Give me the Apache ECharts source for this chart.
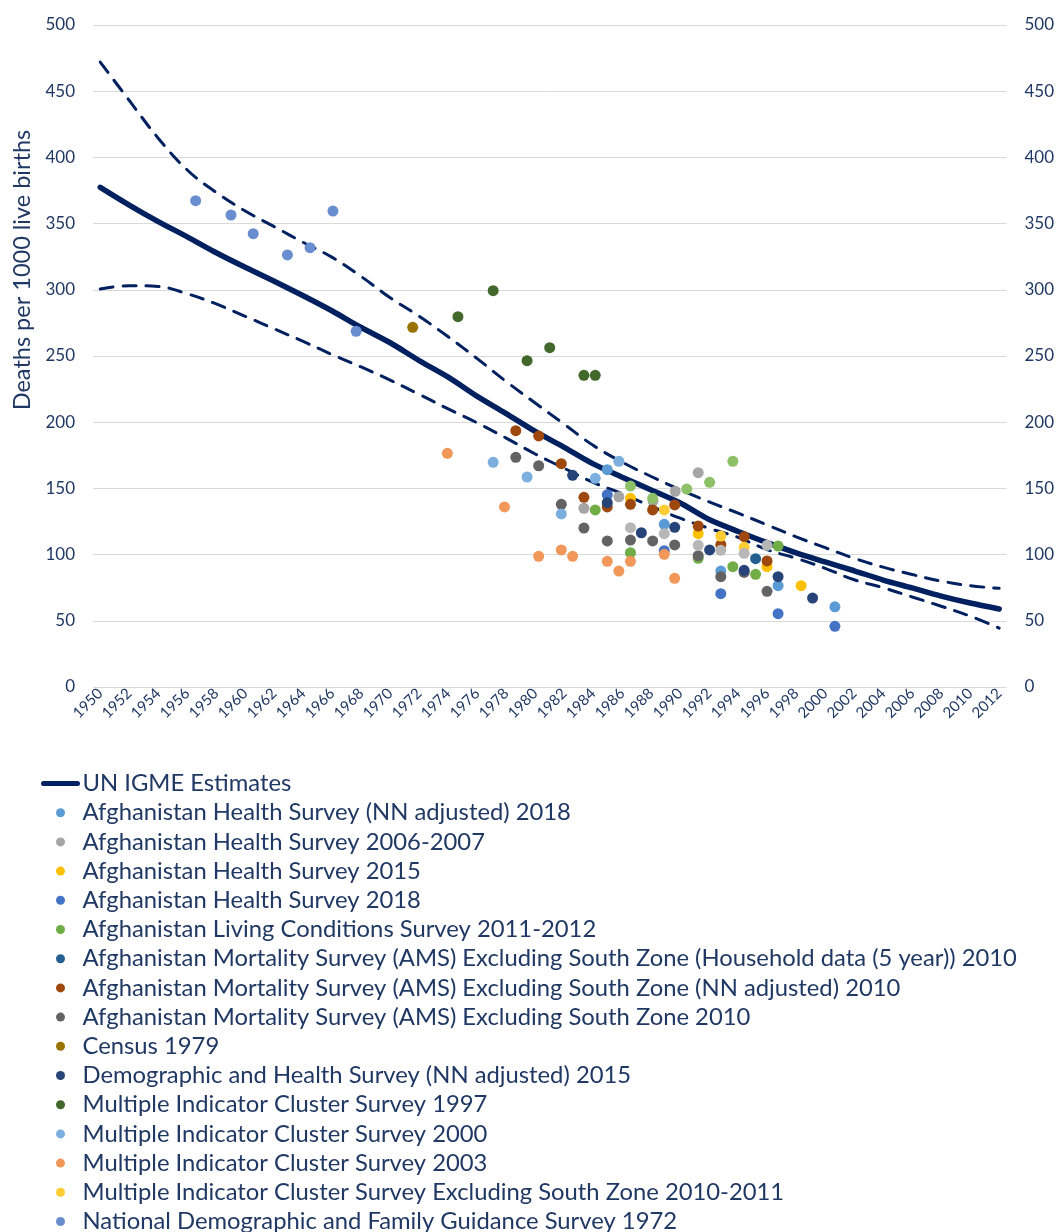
<!DOCTYPE html>
<html>
<head>
<meta charset="utf-8">
<title>Afghanistan neonatal mortality</title>
<script src="https://cdn.jsdelivr.net/npm/echarts@6/dist/echarts.min.js"></script>
<style>
  html, body { margin: 0; padding: 0; background: #fff; }
  #main { width: 1057px; height: 1232px; }
</style>
</head>
<body>
<div id="main"></div>
<script>
// tick labels of the year axis
var yearTicks = [1950, 1952, 1954, 1956, 1958, 1960, 1962, 1964, 1966, 1968, 1970, 1972, 1974, 1976, 1978, 1980,
    1982, 1984, 1986, 1988, 1990, 1992, 1994, 1996, 1998, 2000, 2002, 2004, 2006, 2008, 2010, 2012];

// UN IGME estimate and its bounds, read every 2 years
var estYears = [1950, 1952, 1954, 1956, 1958, 1960, 1962, 1964, 1966, 1968, 1970, 1972, 1974, 1976, 1978, 1980,
    1982, 1984, 1986, 1988, 1990, 1992, 1994, 1996, 1998, 2000, 2002, 2004, 2006, 2008, 2010, 2012];
var estimate = [377.4, 364, 351.5, 340, 328, 317, 306.5, 295.5, 284, 271.5, 260, 246.5, 234, 219.5, 206.5, 193,
    181, 168.5, 158.5, 148.8, 139, 126.5, 117.5, 109, 101.3, 94.5, 87.8, 80.8, 74.8, 68.7, 63.4, 58.9];
var upperBound = [472, 443, 414.5, 390.5, 373.5, 359.5, 347.7, 335.8, 324.5, 310, 294, 280, 264.5, 248, 230.7, 214.5,
    198.5, 182.5, 169.8, 159, 149, 139.8, 131.3, 122.4, 113.4, 105.2, 97.2, 90.5, 85, 80, 76.5, 74.5];
var lowerBound = [300.6, 303.1, 302.5, 297, 289.3, 280, 270.5, 261, 251, 241.7, 231.8, 221, 210, 199.5, 188, 176,
    165.2, 154.5, 146, 136.5, 127.5, 119.8, 113, 103.7, 97.2, 89.6, 81, 75, 68, 61, 53.5, 44.5];

// survey points [year, value]
var ahsNn2018 = [[1984.97, 164.1], [1988.9, 122.9], [1992.8, 87.6], [1996.75, 76.5], [2000.67, 60.6]];
var ahs2006 = [[1983.36, 135.0], [1985.77, 143.7], [1988.13, 140.5], [1989.66, 147.8], [1991.24, 161.9]];
var ahs2015 = [[1986.57, 142.5], [1991.24, 115.8], [1995.99, 90.9], [1998.34, 76.5]];
var ahs2018 = [[1984.97, 145.2], [1988.9, 102.9], [1992.8, 70.5], [1996.75, 55.4], [2000.67, 45.8]];
var alcs = [[1984.14, 133.7], [1986.57, 101.4], [1991.24, 97.2], [1993.63, 90.9], [1995.2, 85.1], [1996.75, 106.5]];
var amsHousehold = [[1995.2, 96.9]];
var amsNn = [[1978.66, 193.6], [1980.24, 189.6], [1981.8, 168.7], [1983.36, 143.3], [1984.97, 136.0], [1986.57, 138.0],
    [1988.1, 133.7], [1989.62, 137.5], [1991.24, 121.6], [1992.8, 107.5], [1994.41, 113.5], [1995.99, 95.2]];
var ams2010 = [[1978.66, 173.5], [1980.24, 167.1], [1981.8, 138.0], [1983.36, 120.1], [1984.97, 110.3], [1986.57, 111.0],
    [1988.1, 110.3], [1989.62, 107.3], [1991.24, 99.2], [1992.8, 83.3], [1994.41, 86.5], [1995.99, 72.3]];
var census1979 = [[1971.55, 271.7]];
var dhsNn2015 = [[1982.58, 159.9], [1984.97, 139.2], [1987.32, 116.5], [1989.62, 120.6], [1992.03, 103.5],
    [1994.41, 88.1], [1996.75, 83.3], [1999.13, 67.2]];
var mics1997 = [[1974.67, 279.7], [1977.1, 299.3], [1979.44, 246.5], [1981.0, 256.3], [1983.36, 235.4], [1984.14, 235.4]];
var mics2000 = [[1977.1, 169.7], [1979.44, 158.6], [1981.8, 130.7], [1984.14, 157.6], [1985.77, 170.5]];
var mics2003 = [[1973.94, 176.5], [1977.88, 136.0], [1980.24, 98.7], [1981.8, 103.5], [1982.58, 98.7], [1984.97, 94.9],
    [1985.77, 87.6], [1986.57, 94.9], [1988.9, 100.2], [1989.62, 82.1]];
var micsEsz = [[1988.9, 133.7], [1992.8, 114.0], [1994.41, 105.5]];
var ndfgs1972 = [[1956.58, 367.3], [1959.02, 356.5], [1960.55, 342.4], [1962.91, 326.3], [1964.47, 331.8],
    [1966.05, 359.5], [1967.65, 268.7]];
// two more series whose legend entries fall below the picture
var hiddenGrey = [[1986.57, 120.3], [1988.9, 115.8], [1991.24, 107.0], [1992.8, 103.2], [1994.41, 101.0], [1995.99, 107.0]];
var hiddenGreen = [[1986.57, 151.8], [1988.1, 142.5], [1990.45, 149.5], [1992.03, 154.6], [1993.63, 170.5]];

var surveys = [
    {name: 'Afghanistan Health Survey (NN adjusted) 2018', color: '#5B9BD5', data: ahsNn2018},
    {name: 'Afghanistan Health Survey 2006-2007', color: '#A5A5A5', data: ahs2006},
    {name: 'Afghanistan Health Survey 2015', color: '#FFC000', data: ahs2015},
    {name: 'Afghanistan Health Survey 2018', color: '#4472C4', data: ahs2018},
    {name: 'Afghanistan Living Conditions Survey 2011-2012', color: '#70AD47', data: alcs},
    {name: 'Afghanistan Mortality Survey (AMS) Excluding South Zone (Household data (5 year)) 2010', color: '#255E91', data: amsHousehold},
    {name: 'Afghanistan Mortality Survey (AMS) Excluding South Zone (NN adjusted) 2010', color: '#9E480E', data: amsNn},
    {name: 'Afghanistan Mortality Survey (AMS) Excluding South Zone 2010', color: '#636363', data: ams2010},
    {name: 'Census 1979', color: '#997300', data: census1979},
    {name: 'Demographic and Health Survey (NN adjusted) 2015', color: '#264478', data: dhsNn2015},
    {name: 'Multiple Indicator Cluster Survey 1997', color: '#43682B', data: mics1997},
    {name: 'Multiple Indicator Cluster Survey 2000', color: '#7CAFDD', data: mics2000},
    {name: 'Multiple Indicator Cluster Survey 2003', color: '#F1975A', data: mics2003},
    {name: 'Multiple Indicator Cluster Survey Excluding South Zone 2010-2011', color: '#FFCD33', data: micsEsz},
    {name: 'National Demographic and Family Guidance Survey 1972', color: '#698ED0', data: ndfgs1972},
    {name: 'National Risk and Vulnerability Assessment 2007-2008', color: '#B7B7B7', data: hiddenGrey, hide: true},
    {name: 'National Risk and Vulnerability Assessment 2011-2012', color: '#8CC168', data: hiddenGreen, hide: true}
];

var navy = '#002060';
var textColor = '#203864';
var font = 'Lato';

function pairs(xs, ys) {
    return xs.map(function (x, i) { return [x, ys[i]]; });
}

var series = [
    {name: 'Upper bound', type: 'line', data: pairs(estYears, upperBound), smooth: 0.4, symbol: 'none', z: 1,
        lineStyle: {color: navy, width: 3, type: [13, 10], cap: 'round'}},
    {name: 'Lower bound', type: 'line', data: pairs(estYears, lowerBound), smooth: 0.4, symbol: 'none', z: 1,
        lineStyle: {color: navy, width: 3, type: [13, 10], cap: 'round'}},
    {name: 'UN IGME Estimates', type: 'line', data: pairs(estYears, estimate), smooth: 0.3, symbol: 'none', z: 1,
        itemStyle: {color: navy},
        lineStyle: {color: navy, width: 5.5, cap: 'round'}}
];
surveys.forEach(function (s) {
    series.push({
        name: s.name, type: 'scatter', data: s.data, symbolSize: 11, z: 3,
        itemStyle: {color: s.color, opacity: 1}
    });
});

// line entry: thick navy stroke, no marker
var legendData = [{name: 'UN IGME Estimates', itemStyle: {opacity: 0}, lineStyle: {width: 5, cap: 'round'}}];
surveys.forEach(function (s) {
    if (!s.hide) legendData.push({name: s.name, icon: 'circle'});
});

var chart = echarts.init(document.getElementById('main'), null, {renderer: 'canvas'});
chart.setOption({
    animation: false,
    backgroundColor: '#fff',
    grid: {left: 93, right: 48, top: 25, bottom: 545, containLabel: false},
    xAxis: {
        type: 'value', min: 1949.5, max: 2012.5,
        splitLine: {show: false}, axisLine: {show: false}, axisTick: {show: false},
        axisLabel: {
            customValues: yearTicks, rotate: 45, margin: 4,
            color: textColor, fontFamily: font, fontSize: 15,
            formatter: function (v) { return String(v); }
        }
    },
    yAxis: [
        {type: 'value', min: 0, max: 500, interval: 50,
            axisLine: {show: false}, axisTick: {show: false},
            splitLine: {lineStyle: {color: '#D9D9D9', width: 1}},
            axisLabel: {color: textColor, fontFamily: font, fontSize: 17, margin: 18}},
        {type: 'value', position: 'right', min: 0, max: 500, interval: 50,
            axisLine: {show: false}, axisTick: {show: false}, splitLine: {show: false},
            axisLabel: {color: textColor, fontFamily: font, fontSize: 17, margin: 18}}
    ],
    legend: {
        orient: 'vertical', left: 41, top: 769, height: 480, padding: 0,
        itemWidth: 34, itemHeight: 9, itemGap: 0.2,
        selectedMode: false,
        textStyle: {color: textColor, fontFamily: font, fontSize: 23.8, lineHeight: 29},
        data: legendData
    },
    graphic: [{
        type: 'text', x: 22, y: 270, rotation: Math.PI / 2,
        style: {text: 'Deaths per 1000 live births', fill: textColor, font: '23.5px Lato',
            align: 'center', verticalAlign: 'middle'}
    }],
    series: series
});
</script>
</body>
</html>
